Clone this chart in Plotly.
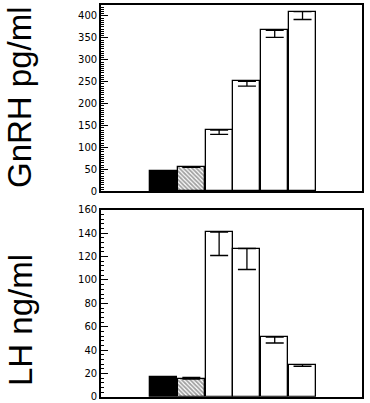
import plotly.graph_objects as go

groups = ["1", "2", "3", "4", "5", "6"]
gnrh = [46, 55, 140, 251, 367, 410]
gnrh_err = [0, 0, 10, 11, 16, 18]
lh = [17, 15, 141, 127, 51, 27.5]
lh_err = [0, 0, 20, 18, 5, 1.5]
lh_err_up = [0, 1.5, 0, 0, 0, 0]
fills = ["black", "white", "white", "white", "white", "white"]
hatch = ["", "\\", "", "", "", ""]

fig = go.Figure()

def add(vals, err, up, yaxis):
    fig.add_trace(go.Bar(
        x=groups, y=vals, width=0.97, yaxis=yaxis, xaxis="x" if yaxis == "y" else "x2",
        marker=dict(color=fills, line=dict(color="black", width=1.3),
                    pattern=dict(shape=hatch, fgcolor="black", bgcolor="#9a9a9a",
                                 size=3, solidity=0.6)),
        error_y=dict(type="data", symmetric=False, array=up, arrayminus=err,
                     color="black", thickness=1.3, width=9),
        showlegend=False, hoverinfo="skip"))

add(gnrh, gnrh_err, [0]*6, "y")
add(lh, lh_err, lh_err_up, "y2")

axis_common = dict(showline=True, linecolor="black", linewidth=1.6, mirror=True,
                   ticks="inside", tickcolor="black", ticklen=7, tickwidth=1.2,
                   showgrid=False, zeroline=False, automargin=False,
                   tickfont=dict(family="DejaVu Sans", size=10, color="black"))

xcommon = dict(domain=[0, 1], range=[-2.25, 7.14], showticklabels=False,
               showline=True, linecolor="black", linewidth=1.6, mirror=True,
               ticks="", showgrid=False, type="category", automargin=False)

fig.update_layout(
    width=370, height=403, margin=dict(l=101, r=8, t=0, b=0, autoexpand=False),
    plot_bgcolor="white", paper_bgcolor="white", bargap=0,
    xaxis=dict(anchor="y", **xcommon),
    xaxis2=dict(anchor="y2", **xcommon),
    yaxis=dict(domain=[0.525, 0.9876], range=[0, 425], tickvals=list(range(0, 401, 50)),
               minor=dict(dtick=5, ticks="inside", ticklen=3.5, tickcolor="black", tickwidth=1),
               **axis_common),
    yaxis2=dict(domain=[0.0156, 0.479], range=[0, 160], tickvals=list(range(0, 161, 20)),
                minor=dict(dtick=4, ticks="inside", ticklen=3.5, tickcolor="black", tickwidth=1),
                **axis_common),
)

fig.add_annotation(text="GnRH pg/ml", xref="paper", yref="paper", x=(20 - 101) / 261,
                   y=1 - 97 / 403, textangle=-90, showarrow=False, xanchor="center",
                   yanchor="middle", font=dict(family="Liberation Sans", size=33, color="black"))
fig.add_annotation(text="LH ng/ml", xref="paper", yref="paper", x=(20 - 101) / 261,
                   y=1 - 320 / 403, textangle=-90, showarrow=False, xanchor="center",
                   yanchor="middle", font=dict(family="Liberation Sans", size=33, color="black"))

fig.write_html("out.html", config={"displayModeBar": False},
               post_script="document.body.style.margin='0';document.body.style.overflow='hidden';")
